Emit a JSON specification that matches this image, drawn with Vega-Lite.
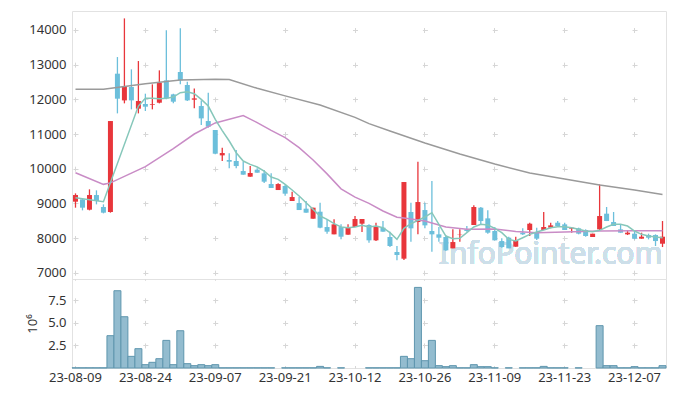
{
  "$schema": "https://vega.github.io/schema/vega-lite/v6.json",
  "padding": {"left": 26, "top": 10, "right": 10, "bottom": 5},
  "config": {
    "font": "Noto Sans",
    "view": {"stroke": "#e2e2e2"},
    "axis": {"labelFont": "Noto Sans", "labelFontSize": 13, "labelColor": "#333", "domain": false, "ticks": false, "gridColor": "#d6d6d6", "gridWidth": 1, "titleFont": "Noto Sans", "labelOverlap": false}
  },
  "data": {"values": [
    {"d":"23-08-09","o":9048,"h":9288,"l":8875,"c":9240,"v":20000,"ma5":9163,"ma20":9884,"ma60":12289},
    {"d":"23-08-10","o":9115,"h":9134,"l":8798,"c":8875,"v":20000,"ma5":null,"ma20":null,"ma60":null},
    {"d":"23-08-11","o":8817,"h":9404,"l":8798,"c":9240,"v":20000,"ma5":null,"ma20":null,"ma60":null},
    {"d":"23-08-14","o":9240,"h":9375,"l":8971,"c":9067,"v":20000,"ma5":null,"ma20":null,"ma60":null},
    {"d":"23-08-16","o":8894,"h":8971,"l":8711,"c":8731,"v":20000,"ma5":9048,"ma20":9548,"ma60":12289},
    {"d":"23-08-17","o":8750,"h":11374,"l":8731,"c":11374,"v":3580000,"ma5":null,"ma20":9590,"ma60":null},
    {"d":"23-08-18","o":12740,"h":13220,"l":11595,"c":12019,"v":8560000,"ma5":null,"ma20":null,"ma60":null},
    {"d":"23-08-21","o":11970,"h":14335,"l":11884,"c":12374,"v":5680000,"ma5":null,"ma20":null,"ma60":null},
    {"d":"23-08-22","o":12355,"h":12865,"l":11711,"c":11970,"v":1290000,"ma5":null,"ma20":null,"ma60":null},
    {"d":"23-08-23","o":11730,"h":13105,"l":11595,"c":11951,"v":2140000,"ma5":11807,"ma20":null,"ma60":null},
    {"d":"23-08-24","o":11865,"h":12163,"l":11663,"c":11788,"v":370000,"ma5":12028,"ma20":10060,"ma60":12451},
    {"d":"23-08-25","o":11840,"h":12432,"l":11711,"c":11860,"v":630000,"ma5":12028,"ma20":null,"ma60":null},
    {"d":"23-08-28","o":11903,"h":12836,"l":11884,"c":12480,"v":1030000,"ma5":12020,"ma20":null,"ma60":null},
    {"d":"23-08-29","o":12547,"h":13990,"l":12000,"c":12028,"v":3060000,"ma5":12028,"ma20":null,"ma60":null},
    {"d":"23-08-30","o":12143,"h":12163,"l":11884,"c":11932,"v":370000,"ma5":12067,"ma20":10580,"ma60":null},
    {"d":"23-08-31","o":12788,"h":14047,"l":12432,"c":12547,"v":4130000,"ma5":12192,"ma20":null,"ma60":12558},
    {"d":"23-09-01","o":12413,"h":12509,"l":11951,"c":11970,"v":480000,"ma5":12220,"ma20":null,"ma60":null},
    {"d":"23-09-04","o":11990,"h":12316,"l":11740,"c":12028,"v":260000,"ma5":12163,"ma20":11000,"ma60":null},
    {"d":"23-09-05","o":11807,"h":11970,"l":11260,"c":11451,"v":370000,"ma5":11999,"ma20":null,"ma60":null},
    {"d":"23-09-06","o":11374,"h":12192,"l":11182,"c":11211,"v":260000,"ma5":11807,"ma20":null,"ma60":null},
    {"d":"23-09-07","o":11115,"h":11115,"l":10413,"c":10432,"v":370000,"ma5":11420,"ma20":11320,"ma60":12578},
    {"d":"23-09-08","o":10384,"h":10605,"l":10221,"c":10451,"v":20000,"ma5":11100,"ma20":null,"ma60":null},
    {"d":"23-09-11","o":10250,"h":10442,"l":10009,"c":10201,"v":20000,"ma5":10798,"ma20":null,"ma60":12570},
    {"d":"23-09-12","o":10221,"h":10538,"l":10009,"c":10076,"v":20000,"ma5":10461,"ma20":null,"ma60":null},
    {"d":"23-09-13","o":9932,"h":10201,"l":9827,"c":9827,"v":20000,"ma5":10221,"ma20":11530,"ma60":null},
    {"d":"23-09-14","o":9769,"h":10076,"l":9769,"c":9875,"v":20000,"ma5":10125,"ma20":null,"ma60":null},
    {"d":"23-09-15","o":9971,"h":10009,"l":9884,"c":9884,"v":20000,"ma5":10048,"ma20":11330,"ma60":12318},
    {"d":"23-09-18","o":9865,"h":9961,"l":9586,"c":9625,"v":20000,"ma5":9932,"ma20":null,"ma60":null},
    {"d":"23-09-19","o":9557,"h":9865,"l":9442,"c":9442,"v":20000,"ma5":9759,"ma20":11105,"ma60":null},
    {"d":"23-09-20","o":9384,"h":9577,"l":9384,"c":9557,"v":null,"ma5":9692,"ma20":null,"ma60":null},
    {"d":"23-09-21","o":9500,"h":9538,"l":9221,"c":9279,"v":20000,"ma5":9548,"ma20":10894,"ma60":12100},
    {"d":"23-09-22","o":9067,"h":9336,"l":9067,"c":9182,"v":20000,"ma5":9384,"ma20":null,"ma60":null},
    {"d":"23-09-25","o":9009,"h":9182,"l":8807,"c":8807,"v":20000,"ma5":9211,"ma20":10605,"ma60":null},
    {"d":"23-09-26","o":8846,"h":9067,"l":8731,"c":8731,"v":20000,"ma5":9019,"ma20":null,"ma60":null},
    {"d":"23-09-27","o":8557,"h":8875,"l":8557,"c":8875,"v":20000,"ma5":8827,"ma20":10250,"ma60":null},
    {"d":"23-10-04","o":8759,"h":9019,"l":8279,"c":8298,"v":180000,"ma5":8634,"ma20":null,"ma60":11837},
    {"d":"23-10-05","o":8317,"h":8538,"l":8125,"c":8183,"v":20000,"ma5":8538,"ma20":9850,"ma60":null},
    {"d":"23-10-06","o":8106,"h":8538,"l":8106,"c":8394,"v":null,"ma5":8413,"ma20":null,"ma60":null},
    {"d":"23-10-10","o":8317,"h":8394,"l":7961,"c":8038,"v":20000,"ma5":8317,"ma20":9420,"ma60":null},
    {"d":"23-10-11","o":8096,"h":8394,"l":8096,"c":8298,"v":null,"ma5":8298,"ma20":null,"ma60":null},
    {"d":"23-10-12","o":8317,"h":8634,"l":8317,"c":8548,"v":null,"ma5":8317,"ma20":9180,"ma60":11480},
    {"d":"23-10-13","o":8413,"h":8548,"l":8173,"c":8548,"v":null,"ma5":8370,"ma20":null,"ma60":null},
    {"d":"23-10-16","o":8375,"h":8394,"l":7865,"c":7933,"v":20000,"ma5":8317,"ma20":9000,"ma60":11300},
    {"d":"23-10-17","o":7933,"h":8442,"l":7913,"c":8317,"v":20000,"ma5":8346,"ma20":null,"ma60":null},
    {"d":"23-10-18","o":8298,"h":8490,"l":8183,"c":8183,"v":20000,"ma5":8298,"ma20":8780,"ma60":null},
    {"d":"23-10-19","o":8029,"h":8183,"l":7740,"c":7769,"v":20000,"ma5":8154,"ma20":null,"ma60":11087},
    {"d":"23-10-20","o":7596,"h":7769,"l":7356,"c":7510,"v":20000,"ma5":7961,"ma20":8600,"ma60":null},
    {"d":"23-10-23","o":7404,"h":9615,"l":7365,"c":9615,"v":1290000,"ma5":8279,"ma20":8580,"ma60":null},
    {"d":"23-10-24","o":8750,"h":9019,"l":7894,"c":8279,"v":1030000,"ma5":8413,"ma20":null,"ma60":null},
    {"d":"23-10-25","o":8461,"h":10201,"l":8106,"c":9038,"v":8930000,"ma5":8509,"ma20":null,"ma60":null},
    {"d":"23-10-26","o":8807,"h":9019,"l":8279,"c":8365,"v":810000,"ma5":8606,"ma20":8490,"ma60":10741},
    {"d":"23-10-27","o":8202,"h":9644,"l":7606,"c":8106,"v":3060000,"ma5":8731,"ma20":null,"ma60":null},
    {"d":"23-10-30","o":8106,"h":8317,"l":7894,"c":8009,"v":260000,"ma5":8394,"ma20":null,"ma60":null},
    {"d":"23-10-31","o":8029,"h":8077,"l":7625,"c":7644,"v":150000,"ma5":8057,"ma20":8317,"ma60":null},
    {"d":"23-11-01","o":7702,"h":8250,"l":7702,"c":7884,"v":260000,"ma5":7981,"ma20":null,"ma60":null},
    {"d":"23-11-02","o":8086,"h":8250,"l":7894,"c":8096,"v":20000,"ma5":7990,"ma20":null,"ma60":10423},
    {"d":"23-11-03","o":8250,"h":8346,"l":8183,"c":8202,"v":20000,"ma5":8154,"ma20":8250,"ma60":null},
    {"d":"23-11-06","o":8375,"h":8942,"l":8375,"c":8894,"v":370000,"ma5":8317,"ma20":null,"ma60":null},
    {"d":"23-11-07","o":8875,"h":8894,"l":8375,"c":8490,"v":150000,"ma5":8394,"ma20":null,"ma60":null},
    {"d":"23-11-08","o":8567,"h":8798,"l":8125,"c":8154,"v":150000,"ma5":8375,"ma20":null,"ma60":null},
    {"d":"23-11-09","o":8202,"h":8317,"l":7933,"c":7933,"v":20000,"ma5":8279,"ma20":8260,"ma60":10135},
    {"d":"23-11-10","o":7913,"h":7990,"l":7721,"c":7740,"v":null,"ma5":8154,"ma20":null,"ma60":null},
    {"d":"23-11-13","o":8009,"h":8038,"l":7702,"c":7702,"v":20000,"ma5":7961,"ma20":null,"ma60":null},
    {"d":"23-11-14","o":7750,"h":8038,"l":7750,"c":7933,"v":null,"ma5":7913,"ma20":8190,"ma60":null},
    {"d":"23-11-15","o":8154,"h":8279,"l":8086,"c":8106,"v":20000,"ma5":8009,"ma20":null,"ma60":null},
    {"d":"23-11-16","o":8231,"h":8442,"l":8058,"c":8413,"v":20000,"ma5":8106,"ma20":null,"ma60":9875},
    {"d":"23-11-17","o":8173,"h":8298,"l":7942,"c":7981,"v":20000,"ma5":8173,"ma20":8154,"ma60":null},
    {"d":"23-11-20","o":8231,"h":8750,"l":8231,"c":8317,"v":180000,"ma5":8231,"ma20":null,"ma60":null},
    {"d":"23-11-21","o":8298,"h":8442,"l":8279,"c":8365,"v":20000,"ma5":8298,"ma20":null,"ma60":null},
    {"d":"23-11-22","o":8442,"h":8490,"l":8327,"c":8346,"v":20000,"ma5":8327,"ma20":null,"ma60":null},
    {"d":"23-11-23","o":8394,"h":8442,"l":8231,"c":8231,"v":20000,"ma5":8327,"ma20":8173,"ma60":9702},
    {"d":"23-11-24","o":8269,"h":8298,"l":8154,"c":8298,"v":null,"ma5":8298,"ma20":null,"ma60":null},
    {"d":"23-11-27","o":8279,"h":8298,"l":8106,"c":8125,"v":20000,"ma5":8250,"ma20":null,"ma60":null},
    {"d":"23-11-28","o":8231,"h":8250,"l":8038,"c":8058,"v":null,"ma5":8202,"ma20":null,"ma60":null},
    {"d":"23-11-29","o":8029,"h":8125,"l":8029,"c":8125,"v":null,"ma5":8183,"ma20":null,"ma60":null},
    {"d":"23-11-30","o":8250,"h":9548,"l":8231,"c":8634,"v":4690000,"ma5":8221,"ma20":8202,"ma60":9529},
    {"d":"23-12-01","o":8702,"h":8894,"l":8490,"c":8490,"v":260000,"ma5":8317,"ma20":null,"ma60":null},
    {"d":"23-12-04","o":8461,"h":8750,"l":8346,"c":8346,"v":260000,"ma5":8394,"ma20":null,"ma60":null},
    {"d":"23-12-05","o":8250,"h":8375,"l":8154,"c":8154,"v":20000,"ma5":8394,"ma20":null,"ma60":null},
    {"d":"23-12-06","o":8106,"h":8231,"l":8086,"c":8154,"v":20000,"ma5":8346,"ma20":null,"ma60":null},
    {"d":"23-12-07","o":8125,"h":8221,"l":7961,"c":7981,"v":150000,"ma5":8202,"ma20":8210,"ma60":9385},
    {"d":"23-12-08","o":7981,"h":8154,"l":7981,"c":8038,"v":20000,"ma5":8106,"ma20":null,"ma60":null},
    {"d":"23-12-11","o":8086,"h":8125,"l":7961,"c":8009,"v":20000,"ma5":8058,"ma20":null,"ma60":null},
    {"d":"23-12-12","o":8086,"h":8106,"l":7769,"c":7913,"v":20000,"ma5":8029,"ma20":null,"ma60":null},
    {"d":"23-12-13","o":7836,"h":8490,"l":7740,"c":8038,"v":260000,"ma5":8009,"ma20":8210,"ma60":9255}
  ]},
  "spacing": 0,
  "bounds": "flush",
  "resolve": {"scale": {"x": "shared"}},
  "vconcat": [
    {
      "width": 594,
      "height": 268,
      "encoding": {
        "x": {"field": "d", "type": "ordinal", "scale": {"paddingInner": 0, "paddingOuter": 0},
          "axis": {"values": ["23-08-09","23-08-24","23-09-07","23-09-21","23-10-12","23-10-26","23-11-09","23-11-23","23-12-07"], "labels": false, "labelPadding": 0, "minExtent": 0, "maxExtent": 0, "title": null, "grid": true, "gridDash": [5, 29.67], "gridDashOffset": -16.5}}
      },
      "layer": [
        {
          "mark": {"type": "text", "text": "InfoPointer.com", "fontSize": 30, "color": "#cddfe9", "align": "center", "baseline": "middle", "font": "Noto Sans"},
          "encoding": {
            "x": {"datum": "23-11-21", "type": "ordinal"},
            "y": {"datum": 7500, "type": "quantitative", "scale": {"domain": [6818, 14548], "nice": false, "zero": false},
              "axis": {"values": [7000,8000,9000,10000,11000,12000,13000,14000], "tickCount": 8, "tickMinStep": 1000, "format": "d", "title": null, "labelPadding": 6, "labelOverlap": false, "labelSeparation": 0, "labelBound": false, "labelFlush": false, "grid": true, "gridDash": [5, 64.88], "gridDashOffset": -1}}
          }
        },
        {
          "mark": {"type": "rule", "strokeWidth": 1.3},
          "encoding": {
            "y": {"field": "l", "type": "quantitative"},
            "y2": {"field": "h"},
            "color": {"condition": {"test": "datum.c >= datum.o", "value": "#e8363b"}, "value": "#6cbfdb"}
          }
        },
        {
          "mark": {"type": "bar", "size": 5},
          "encoding": {
            "y": {"field": "o", "type": "quantitative"},
            "y2": {"field": "c"},
            "color": {"condition": {"test": "datum.c >= datum.o", "value": "#e8363b"}, "value": "#6cbfdb"}
          }
        },
        {
          "transform": [{"filter": "datum.ma60 != null"}],
          "mark": {"type": "line", "color": "#9a9a9a", "strokeWidth": 1.5},
          "encoding": {"y": {"field": "ma60", "type": "quantitative"}}
        },
        {
          "transform": [{"filter": "datum.ma20 != null"}],
          "mark": {"type": "line", "color": "#c98cc6", "strokeWidth": 1.5},
          "encoding": {"y": {"field": "ma20", "type": "quantitative"}}
        },
        {
          "transform": [{"filter": "datum.ma5 != null"}],
          "mark": {"type": "line", "color": "#86c7ba", "strokeWidth": 1.5},
          "encoding": {"y": {"field": "ma5", "type": "quantitative"}}
        }
      ]
    },
    {
      "width": 594,
      "height": 89,
      "mark": {"type": "bar", "fill": "#93bccf", "stroke": "#5f96ae", "strokeWidth": 1},
      "encoding": {
        "x": {"field": "d", "type": "ordinal", "scale": {"paddingInner": 0, "paddingOuter": 0},
          "axis": {"values": ["23-08-09","23-08-24","23-09-07","23-09-21","23-10-12","23-10-26","23-11-09","23-11-23","23-12-07"], "labelAngle": 0, "labelPadding": 3, "title": null, "grid": true, "gridDash": [5, 17.565], "gridDashOffset": -18.8}},
        "y": {"field": "v", "type": "quantitative", "scale": {"domain": [0, 9860000], "nice": false},
          "axis": {"values": [2500000, 5000000, 7500000], "labelExpr": "format(datum.value/1000000, '.1f')", "title": "10⁶", "titleFontWeight": "normal", "titleFontSize": 13, "titleColor": "#333", "titlePadding": 8, "labelPadding": 6, "grid": true, "gridDash": [5, 64.88], "gridDashOffset": -1}}
      }
    }
  ]
}
